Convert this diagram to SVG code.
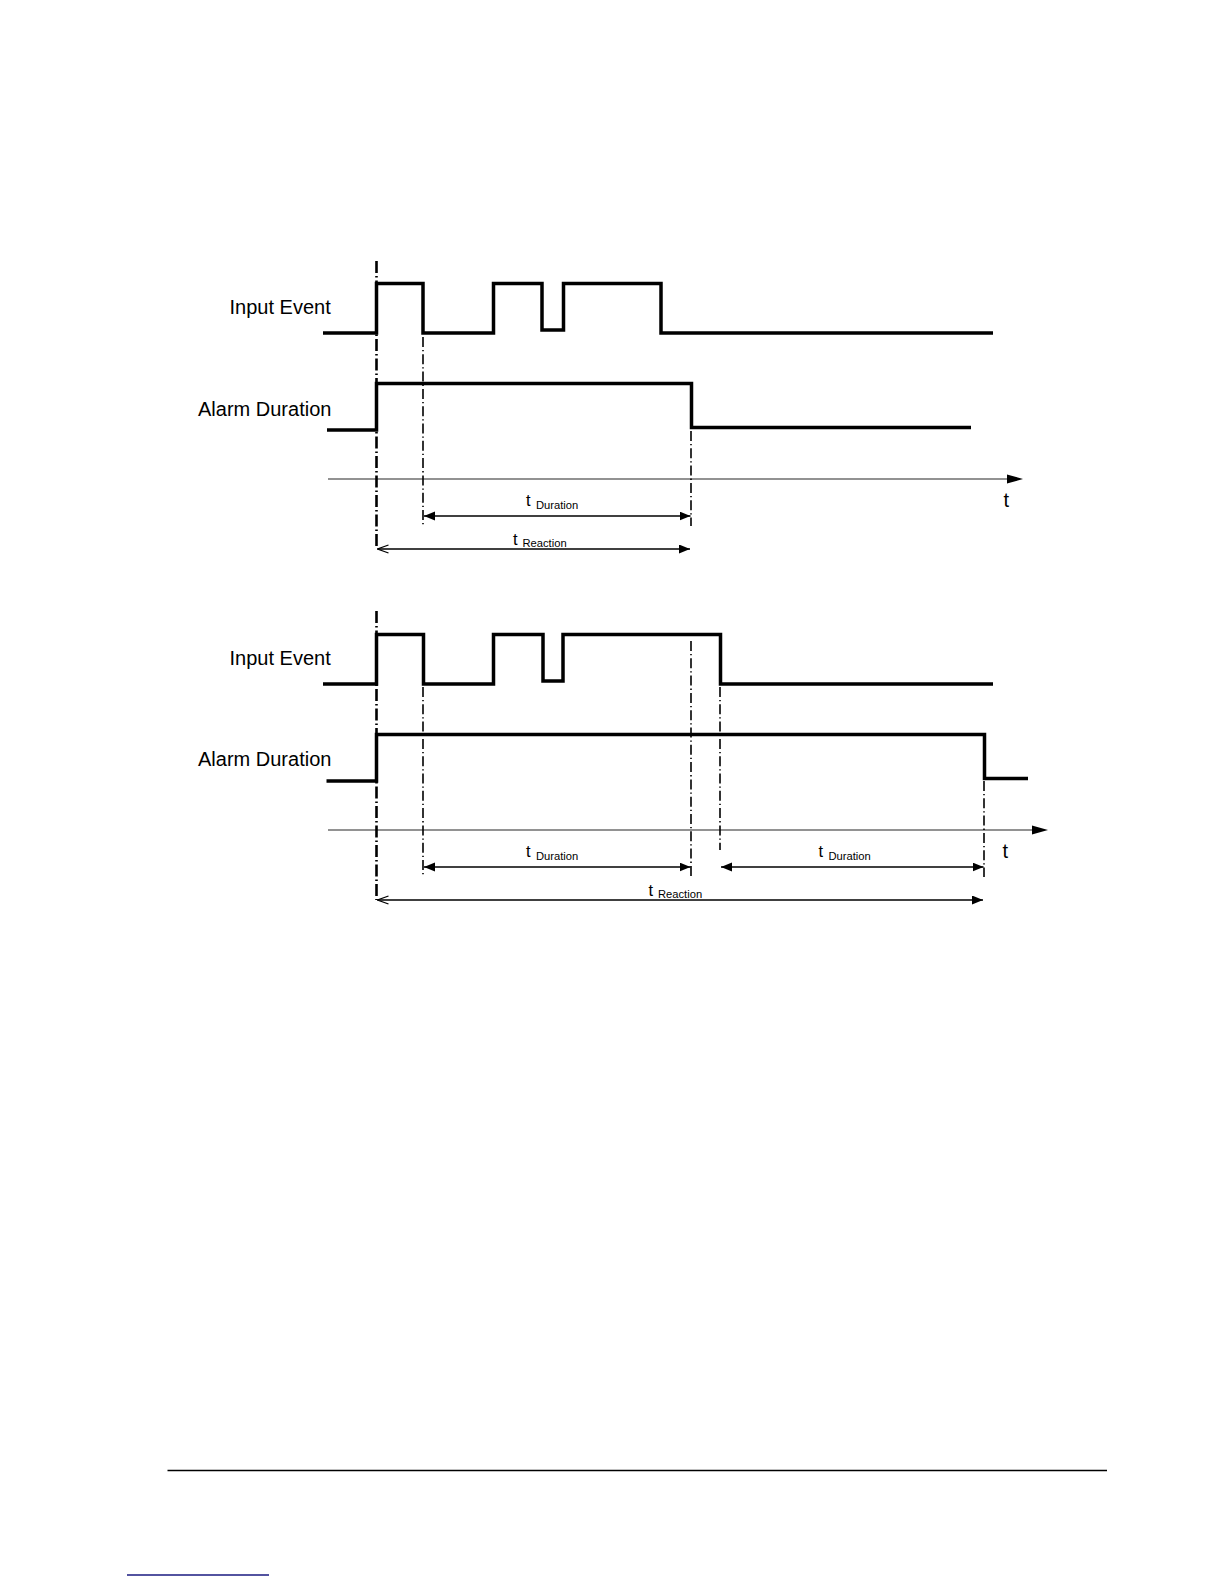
<svg xmlns="http://www.w3.org/2000/svg" width="1224" height="1584" viewBox="0 0 1224 1584">
<style>
.wave{fill:none;stroke:#000;stroke-width:3.5;stroke-linejoin:miter;stroke-linecap:butt}
.axis{stroke:#6e6e6e;stroke-width:1.3}
.dd{stroke:#000;stroke-width:1.6;stroke-dasharray:10 3 1.3 3;fill:none}
.ddk{stroke:#000;stroke-width:2.6;stroke-dasharray:12 3 1.5 3;fill:none}
.dim{stroke:#000;stroke-width:1.3;fill:none}
.lbl{font-family:"Liberation Sans",Arial,sans-serif;font-size:20px;fill:#000}
.t{font-family:"Liberation Sans",Arial,sans-serif;font-size:16.5px;fill:#000}
.sub{font-family:"Liberation Sans",Arial,sans-serif;font-size:11.2px;fill:#000}
</style>
<defs>
<marker id="ah" markerUnits="userSpaceOnUse" markerWidth="12" markerHeight="10" refX="11" refY="4.5" orient="auto-start-reverse"><path d="M0,0 L11,4.5 L0,9 z" fill="#000"/></marker>
<marker id="ao" markerUnits="userSpaceOnUse" markerWidth="12" markerHeight="10" refX="11" refY="4.5" orient="auto-start-reverse"><path d="M0,0.5 L11,4.5 L0,8.5" fill="none" stroke="#000" stroke-width="1.3"/></marker>
</defs>
<rect width="1224" height="1584" fill="#fff"/>

<g id="diagram1">
<g id="d1-input"><text class="lbl" x="229.5" y="314">Input Event</text><path class="wave" d="M323,333 H376.5 V283.5 H423 V333 H493.5 V283.5 H542 V330 H563.5 V283.5 H661 V333 H993"/></g>
<g id="d1-alarm"><text class="lbl" x="198" y="415.5">Alarm Duration</text><path class="wave" d="M327,430 H376.5 V383.5 H691.5 V427.5 H971"/></g>
<g id="d1-axis"><line class="axis" x1="328" y1="479" x2="1008" y2="479"/><polygon points="1007,474.5 1023,479 1007,483.5" fill="#000"/><text class="lbl" x="1003.5" y="507">t</text></g>
<g id="d1-guides">
<line class="ddk" x1="376.5" y1="261" x2="376.5" y2="547"/>
<line class="dd" x1="423" y1="337" x2="423" y2="525"/>
<line class="dd" x1="691" y1="431" x2="691" y2="526"/>
</g>
<g id="d1-dims">
<line class="dim" x1="424" y1="516" x2="690.5" y2="516" marker-start="url(#ah)" marker-end="url(#ah)"/>
<text x="526" y="506"><tspan class="t">t</tspan><tspan class="sub" x="536" y="508.5">Duration</tspan></text>
<line class="dim" x1="377.5" y1="549" x2="690" y2="549" marker-start="url(#ao)" marker-end="url(#ah)"/>
<text x="513" y="544.5"><tspan class="t">t</tspan><tspan class="sub" x="522.5" y="546.5">Reaction</tspan></text>
</g>
</g>

<g id="diagram2">
<g id="d2-input"><text class="lbl" x="229.5" y="664.5">Input Event</text><path class="wave" d="M323,684 H376.5 V634.5 H423.5 V684 H493.5 V634.5 H543 V681 H563 V634.5 H720.5 V684 H993"/></g>
<g id="d2-alarm"><text class="lbl" x="198" y="765.5">Alarm Duration</text><path class="wave" d="M326.5,781 H376.5 V734.5 H984.5 V778.5 H1028"/></g>
<g id="d2-axis"><line class="axis" x1="328" y1="830" x2="1033" y2="830"/><polygon points="1032,825.5 1048,830 1032,834.5" fill="#000"/><text class="lbl" x="1002.5" y="858">t</text></g>
<g id="d2-guides">
<line class="ddk" x1="376.5" y1="611" x2="376.5" y2="900"/>
<line class="dd" x1="423" y1="687" x2="423" y2="876"/>
<line class="dd" x1="691" y1="641" x2="691" y2="877"/>
<line class="dd" x1="720" y1="687" x2="720" y2="850"/>
<line class="dd" x1="984" y1="781" x2="984" y2="877"/>
</g>
<g id="d2-dims">
<line class="dim" x1="424" y1="867" x2="690.5" y2="867" marker-start="url(#ah)" marker-end="url(#ah)"/>
<text x="526" y="857"><tspan class="t">t</tspan><tspan class="sub" x="536" y="859.5">Duration</tspan></text>
<line class="dim" x1="721" y1="867" x2="983.5" y2="867" marker-start="url(#ah)" marker-end="url(#ah)"/>
<text x="818.5" y="857"><tspan class="t">t</tspan><tspan class="sub" x="828.5" y="859.5">Duration</tspan></text>
<line class="dim" x1="377.5" y1="900" x2="983" y2="900" marker-start="url(#ao)" marker-end="url(#ah)"/>
<text x="648.5" y="896"><tspan class="t">t</tspan><tspan class="sub" x="658" y="898">Reaction</tspan></text>
</g>
</g>

<g id="footer">
<line x1="167.5" y1="1470.5" x2="1107" y2="1470.5" stroke="#000" stroke-width="1.3"/>
<line x1="127" y1="1575" x2="269" y2="1575" stroke="#1a1a80" stroke-width="1.3"/>
</g>
</svg>
